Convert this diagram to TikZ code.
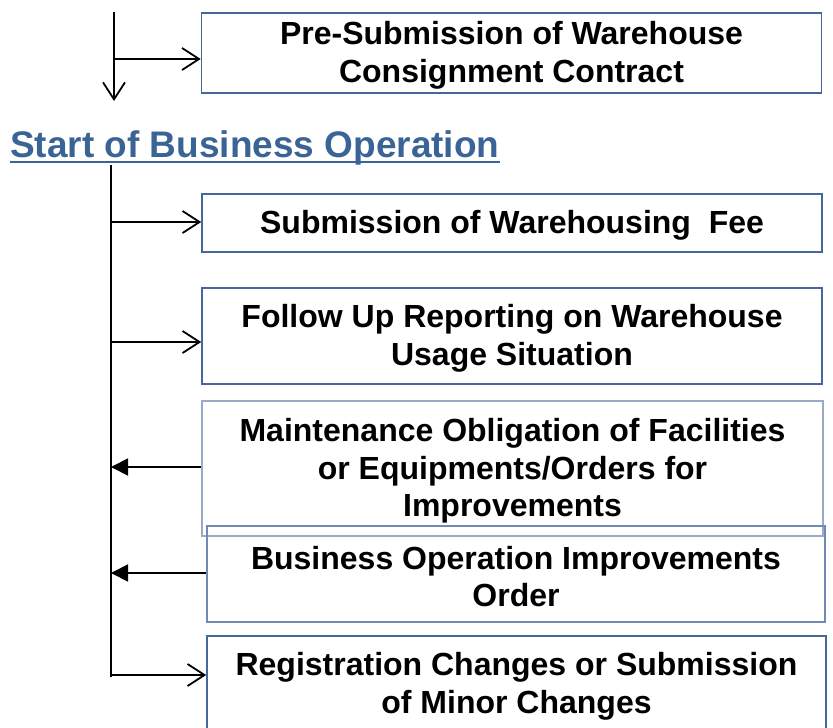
\documentclass[tikz,border=0pt]{standalone}
\usepackage{fontspec}
\setmainfont{Liberation Sans}
\usetikzlibrary{arrows.meta,positioning}
\definecolor{boxblue}{HTML}{46679B}
\definecolor{paleblue}{HTML}{97AAC6}
\definecolor{midblue}{HTML}{7189B3}
\definecolor{headblue}{HTML}{3B6496}

\begin{document}
\begin{tikzpicture}[x=1pt,y=-1pt,
        step box/.style={draw=boxblue,line width=1.6pt,minimum width=620pt,inner sep=0pt,
            text width=600pt,align=flush center,font=\fontsize{32}{37.5}\selectfont\bfseries,
            execute at begin node={\rule{0pt}{28pt}}},
        out arrow/.style={-{Straight Barb[length=17pt,width=22pt]},line width=1.8pt},
        in arrow/.style={-{Triangle[length=17pt,width=17pt]},line width=1.8pt}]

    \useasboundingbox (0,0) rectangle (833,728);

    \node[step box,minimum height=80pt] (presub) at (511.5,53) {Pre-Submission of Warehouse\\Consignment Contract};
    \node[step box,minimum height=58pt] (fee) at (512,223) {Submission of Warehousing\ \ Fee};
    \node[step box,minimum height=96pt] (report) at (512,336) {Follow Up Reporting on Warehouse\\Usage Situation};
    \node[step box,draw=paleblue,minimum width=621pt,minimum height=135pt] (maint) at (512.5,468.5)
        {Maintenance Obligation of Facilities\\or Equipments/Orders for\\Improvements};
    \node[step box,draw=midblue,minimum width=618pt,minimum height=96pt] (order) at (516,574)
        {Business Operation Improvements\\Order};
    \node[step box,minimum width=619pt,minimum height=96pt] (regist) at (516.5,684)
        {Registration Changes or Submission\\of Minor Changes};

    \node[anchor=base west,inner sep=0pt,text=headblue,font=\fontsize{37}{41}\selectfont\bfseries]
        (start) at (10,157) {Start of Business Operation};
    \draw[headblue,line width=2pt] ([yshift=-5pt]start.base west) -- ([yshift=-5pt]start.base east);

    % incoming line above the heading
    \coordinate (feed top) at (114,12);
    \coordinate (feed end) at (114,101);
    \coordinate (f1) at (114,59);
    \draw[out arrow] (feed top) -- (feed end);
    \path[out arrow] (f1) edge (f1 -| presub.west);

    % spine below the heading
    \coordinate (spine top) at (111,165);
    \coordinate (spine end) at (111,677);
    \coordinate (s1) at (111,222);
    \coordinate (s2) at (111,342);
    \coordinate (s3) at (111,467);
    \coordinate (s4) at (111,573);
    \coordinate (s5) at (111,675);
    \draw[line width=2pt] (spine top) -- (spine end);

    \path[out arrow]
    (s1) edge (s1 -| fee.west)
    (s2) edge (s2 -| report.west)
    (s5) edge (s5 -| regist.west);
    \path[in arrow]
    (s3 -| maint.west) edge (s3)
    (s4 -| order.west) edge (s4);
\end{tikzpicture}
\end{document}
